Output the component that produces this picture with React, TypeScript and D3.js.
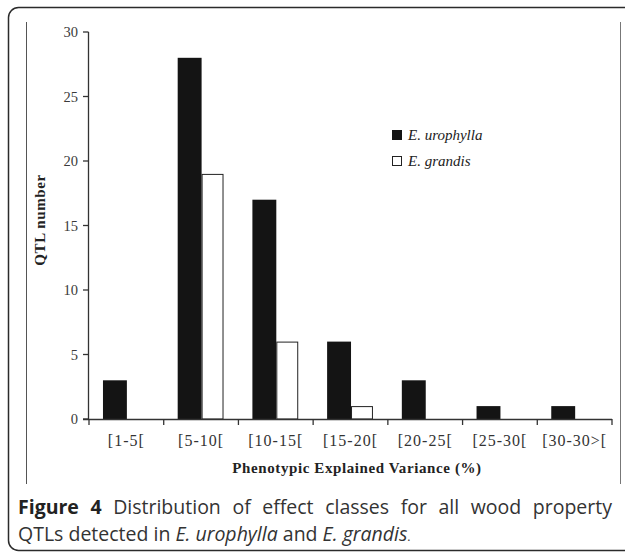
import React, { useLayoutEffect, useRef } from "react";
import * as d3 from "d3";

const categories = ["[1-5[", "[5-10[", "[10-15[", "[15-20[", "[20-25[", "[25-30[", "[30-30>["];
const urophylla = [3, 28, 17, 6, 3, 1, 1];
const grandis = [0, 19, 6, 1, 0, 0, 0];
const yTicks = [0, 5, 10, 15, 20, 25, 30];
const seriesNames = ["E. urophylla", "E. grandis"];

const serif = "'Liberation Serif', 'Times New Roman', serif";
const sans = "'Open Sans', 'Noto Sans', sans-serif";

export default function App() {
  const line1Ref = useRef<SVGTextElement>(null);

  const x = d3.scaleBand<string>().domain(categories).range([89, 612]).paddingInner(0).paddingOuter(0);
  const y = d3.scaleLinear().domain([0, 30]).range([419, 32]);
  const bw = x.bandwidth();

  useLayoutEffect(() => {
    const el = line1Ref.current;
    if (!el) return;
    el.setAttribute("word-spacing", "0");
    const natural = el.getComputedTextLength();
    const target = 612 - 18;
    const spaces = 9;
    const ws = Math.max(0, (target - natural) / spaces);
    el.setAttribute("word-spacing", String(ws));
  }, []);

  const x0 = x(categories[0]) as number;
  const xEnd = x0 + bw * categories.length;

  return (
    <svg
      width={625}
      height={555}
      style={{ position: "absolute", left: 0, top: 0, background: "#fff" }}
    >
      {/* outer rounded frame */}
      <rect x={8.5} y={7.5} width={660} height={543} rx={10} ry={10} fill="none" stroke="#2b2b2b" strokeWidth={1.5} />
      {/* inner image frame lines */}
      <line x1={26.5} x2={26.5} y1={22} y2={484} stroke="#555" strokeWidth={1} />
      <line x1={620.5} x2={620.5} y1={22} y2={484} stroke="#777" strokeWidth={1} />

      {/* bars */}
      {categories.map((c, i) => {
        const bx = x(c) as number;
        return (
          <g key={c}>
            {urophylla[i] > 0 && (
              <rect
                x={bx + bw * 0.187}
                y={y(urophylla[i])}
                width={bw * 0.32}
                height={y(0) - y(urophylla[i])}
                fill="#141414"
              />
            )}
            {grandis[i] > 0 && (
              <rect
                x={bx + bw * 0.507 + 0.5}
                y={y(grandis[i]) + 0.5}
                width={bw * 0.28}
                height={y(0) - y(grandis[i]) - 0.5}
                fill="#fff"
                stroke="#222"
                strokeWidth={1}
              />
            )}
          </g>
        );
      })}

      {/* y axis */}
      <line x1={88.5} x2={88.5} y1={y(30)} y2={y(0)} stroke="#333" strokeWidth={1.3} />
      {yTicks.map((t) => (
        <g key={t}>
          <line x1={83} x2={88.5} y1={y(t)} y2={y(t)} stroke="#333" strokeWidth={1.3} />
          <text
            x={78}
            y={y(t)}
            dy="0.35em"
            textAnchor="end"
            fontFamily={serif}
            fontSize={14.5}
            fill="#3a3a3a"
          >
            {t}
          </text>
        </g>
      ))}

      {/* x axis */}
      <line x1={83} x2={xEnd} y1={y(0) + 0.5} y2={y(0) + 0.5} stroke="#333" strokeWidth={1.3} />
      {categories.concat(["end"]).map((c, i) => {
        const tx = x0 + i * bw;
        return <line key={"t" + i} x1={tx} x2={tx} y1={y(0)} y2={y(0) + 6} stroke="#333" strokeWidth={1.3} />;
      })}
      {categories.map((c) => (
        <text
          key={"l" + c}
          x={(x(c) as number) + bw / 2}
          y={446}
          textAnchor="middle"
          fontFamily={serif}
          fontSize={16}
          letterSpacing={1}
          fill="#333"
        >
          {c}
        </text>
      ))}

      {/* axis titles */}
      <text x={357} y={473} textAnchor="middle" fontFamily={serif} fontSize={15} letterSpacing={0.6} fontWeight="bold" fill="#222">
        Phenotypic Explained Variance (%)
      </text>
      <text
        transform={`translate(45, 220) rotate(-90)`}
        textAnchor="middle"
        fontFamily={serif}
        fontSize={15}
        letterSpacing={0.6}
        fontWeight="bold"
        fill="#222"
      >
        QTL number
      </text>

      {/* legend */}
      <rect x={392} y={130} width={10} height={10} fill="#141414" />
      <text x={408} y={140} fontFamily={serif} fontStyle="italic" fontSize={15} fill="#222">
        {seriesNames[0]}
      </text>
      <rect x={392.5} y={156.5} width={9} height={9} fill="#fff" stroke="#222" strokeWidth={1} />
      <text x={408} y={166} fontFamily={serif} fontStyle="italic" fontSize={15} fill="#222">
        {seriesNames[1]}
      </text>

      {/* caption */}
      <text ref={line1Ref} x={18} y={514} fontFamily={sans} fontSize={19.5} fill="#333">
        <tspan fontWeight="bold" fill="#222">Figure 4</tspan>
        <tspan> Distribution of effect classes for all wood property</tspan>
      </text>
      <text x={18} y={541} fontFamily={sans} fontSize={19.5} fill="#333">
        <tspan>QTLs detected in </tspan>
        <tspan fontStyle="italic">E. urophylla</tspan>
        <tspan> and </tspan>
        <tspan fontStyle="italic">E. grandis</tspan>
        <tspan fontSize={12}>.</tspan>
      </text>
    </svg>
  );
}
